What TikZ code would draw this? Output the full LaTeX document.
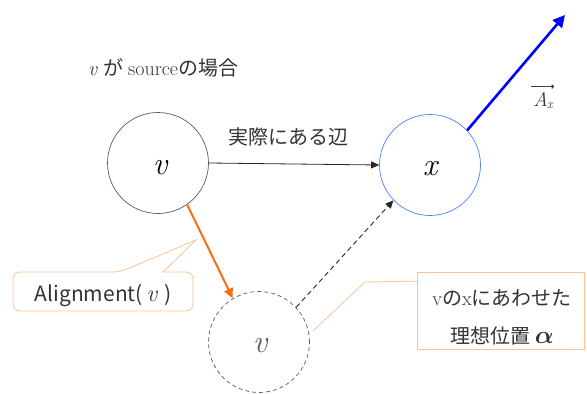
\documentclass[tikz,border=0pt]{standalone}
\usepackage{fontspec}
\usepackage{bm}
\newfontfamily\jp{Noto Sans CJK JP}
\usetikzlibrary{arrows.meta,calc}
\definecolor{orng}{RGB}{250,110,20}
\definecolor{lorng}{RGB}{250,195,150}
\definecolor{lblue}{RGB}{70,130,255}
\definecolor{dgray}{RGB}{90,90,90}
\begin{document}
\begin{tikzpicture}[x=1pt,y=-1pt,
  vert/.style={circle,minimum size=101pt,inner sep=0pt,line width=0.7pt},
  vlab/.style={font=\rmfamily\itshape\fontsize{32}{34}\selectfont,inner sep=0pt},
  jptxt/.style={font=\jp\fontsize{19}{22}\selectfont,text=black!80,inner sep=0pt},
  callbox/.style={draw=lorng,line width=0.8pt,fill=white,inner sep=0pt}]
\useasboundingbox (0,0) rectangle (587,394);
% vertices
\node[vert,draw=dgray] (v) at (158,163) {};
\node[vert,draw=lblue] (x) at (430,165) {};
\node[vert,draw=dgray,dashed,dash pattern=on 4pt off 3pt] (vi) at (259,342) {};
\node[vlab] (vl) at (160,168) {v};
\node[vlab] (xl) at (430,169) {x};
\node[vlab,text=dgray] (vil) at (260,346) {v};
% texts
\node[jptxt,font=\jp\fontsize{20}{22}\selectfont,anchor=west] (title) at (88,68) {{\rmfamily\itshape v}\hspace{6pt}が\hspace{5pt}{\rmfamily source}の場合};
\node[jptxt,font=\jp\fontsize{20}{22}\selectfont] (elabel) at (288,137) {実際にある辺};
\coordinate (atip) at (565,15);
\node[inner sep=0pt,text=black!80,font=\rmfamily\itshape\fontsize{20}{22}\selectfont] (alabel) at (543,100) {A\kern-1pt\raisebox{-2pt}{\fontsize{13}{14}\selectfont x}};
\draw[-{To[length=2.5pt,width=4.5pt]},line width=1.4pt,black!75] ([xshift=-2pt,yshift=5pt]alabel.north west) -- ([xshift=1pt,yshift=5pt]alabel.north east);
% edges
\draw[-{Triangle[length=8pt,width=7pt]},line width=0.8pt,black!85] (v.east) -- (x.west);
\draw[-{Triangle[length=8pt,width=7pt]},line width=0.9pt,dashed,dash pattern=on 5pt off 3.5pt,black!85] (vi.43) -- (x.-136);
\draw[-{Triangle[length=12pt,width=12pt]},line width=2.6pt,blue] (x.43) -- (atip);
% callout Alignment
\path[callbox,rounded corners=7pt] (120,272) [sharp corners] -- (196,240) -- (163,272) [rounded corners=7pt] -- (193,272) -- (193,311) -- (13,311) -- (13,272) -- cycle;
\node[jptxt,font=\jp\fontsize{21}{22}\selectfont] (align) at (103,296) {Alignment(\,{\rmfamily\itshape\fontsize{24}{24}\selectfont v}\,\,)};
\draw[-{Triangle[length=10pt,width=9pt]},line width=2pt,orng] (v.-55) -- (vi.121);
% callout ideal position
\node[callbox,minimum width=167pt,minimum height=77pt] (ideal) at (501,311) {};
\node[jptxt,font=\jp\fontsize{20}{38}\selectfont,align=center] (itext) at (502,317) {{\rmfamily v}の{\rmfamily x}にあわせた\\理想位置 {\fontsize{26}{26}\selectfont$\bm{\alpha}$}};
\coordinate (bend) at (365,282);
\coordinate (btip) at (313,331);
\draw[lorng,line width=0.8pt] ($(ideal.north west)+(0,9)$) -- (bend) -- (btip);
\end{tikzpicture}
\end{document}
